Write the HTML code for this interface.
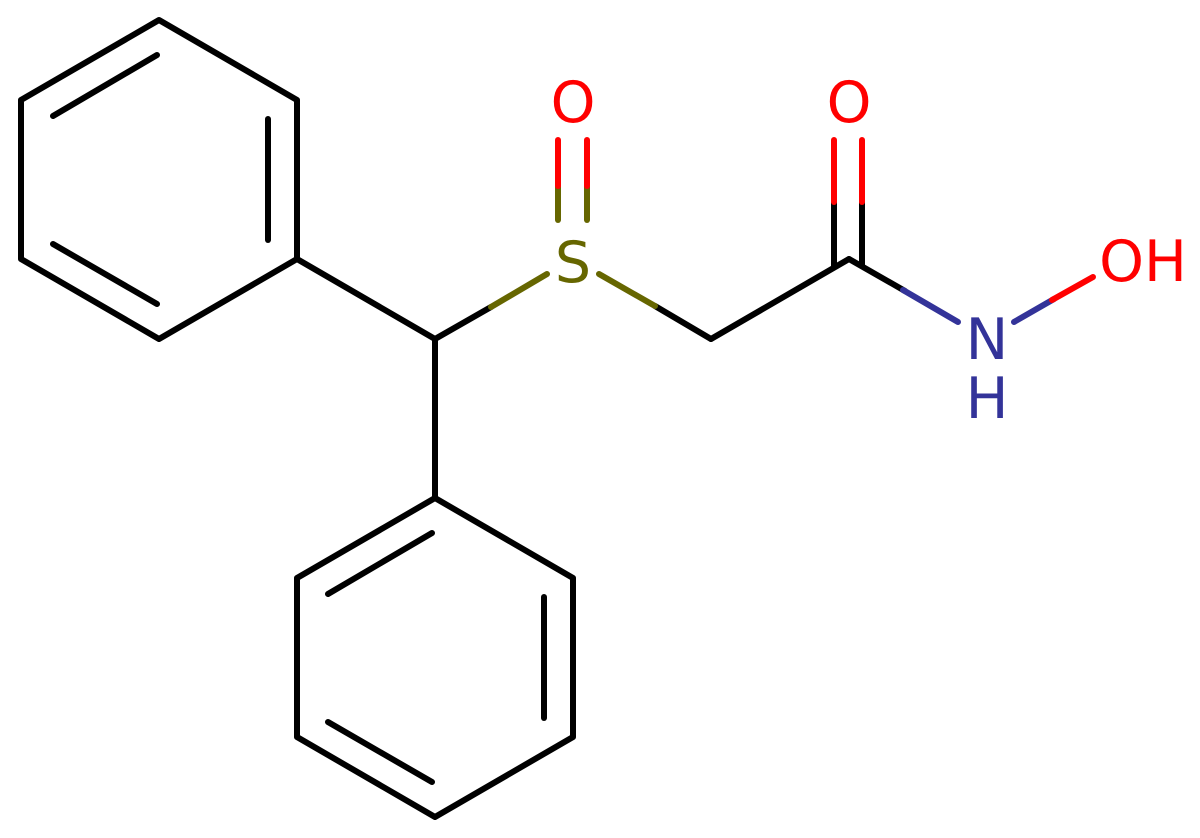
<!DOCTYPE html>
<html><head><meta charset="utf-8"><style>html,body{margin:0;padding:0;background:#fff}svg{display:block}</style></head>
<body>
<svg width="1200" height="838" viewBox="0 0 1200 838" xmlns="http://www.w3.org/2000/svg">
<rect width="1200" height="838" fill="#fff"/>
<g stroke="#000" stroke-width="6" stroke-linecap="round" stroke-linejoin="round" fill="none">
<polygon points="159,20 297,100 297,259 159,339 21,259 21,100"/>
<line x1="53" y1="116" x2="157" y2="55"/>
<line x1="268" y1="119" x2="268" y2="240"/>
<line x1="53" y1="244" x2="157" y2="304"/>
<line x1="297" y1="259" x2="435" y2="339"/>
<line x1="435" y1="339" x2="435" y2="498"/>
<polygon points="435,498 573,578 573,737 435,817 297,737 297,578"/>
<line x1="328" y1="594" x2="432" y2="533"/>
<line x1="544" y1="597" x2="544" y2="718"/>
<line x1="328" y1="722" x2="432" y2="782"/>
<line x1="435" y1="339" x2="491" y2="307"/>
<line x1="655" y1="306" x2="711" y2="339"/>
<line x1="711" y1="339" x2="849" y2="259"/>
<line x1="849" y1="259" x2="905" y2="291"/>
<line x1="834" y1="202" x2="834" y2="266"/>
<line x1="862" y1="202" x2="862" y2="266"/>
</g>
<g stroke-width="6" stroke-linecap="round" fill="none">
<line x1="491" y1="307" x2="547" y2="274" stroke="#666600"/>
<line x1="599" y1="274" x2="655" y2="306" stroke="#666600"/>
<line x1="558" y1="184" x2="558" y2="220" stroke="#666600"/>
<line x1="587" y1="184" x2="587" y2="220" stroke="#666600"/>
<line x1="558" y1="140" x2="558" y2="186" stroke="#f00"/>
<line x1="587" y1="140" x2="587" y2="186" stroke="#f00"/>
<line x1="834" y1="140" x2="834" y2="202" stroke="#f00"/>
<line x1="862" y1="140" x2="862" y2="202" stroke="#f00"/>
<line x1="903" y1="290" x2="958" y2="322" stroke="#333399"/>
<line x1="1014" y1="322" x2="1054" y2="299" stroke="#333399"/>
<line x1="1052" y1="300" x2="1093" y2="277" stroke="#f00"/>
</g>
<g font-family="DejaVu Sans, Liberation Sans, sans-serif" font-size="57" text-anchor="middle">
<text x="573" y="122" fill="#f00">O</text>
<text x="849" y="122" fill="#f00">O</text>
<text x="573" y="282" fill="#666600">S</text>
<text x="987" y="359" fill="#333399">N</text>
<text x="987" y="418" fill="#333399">H</text>
<text x="1143" y="281" fill="#f00">OH</text>
</g>
</svg>
</body></html>
